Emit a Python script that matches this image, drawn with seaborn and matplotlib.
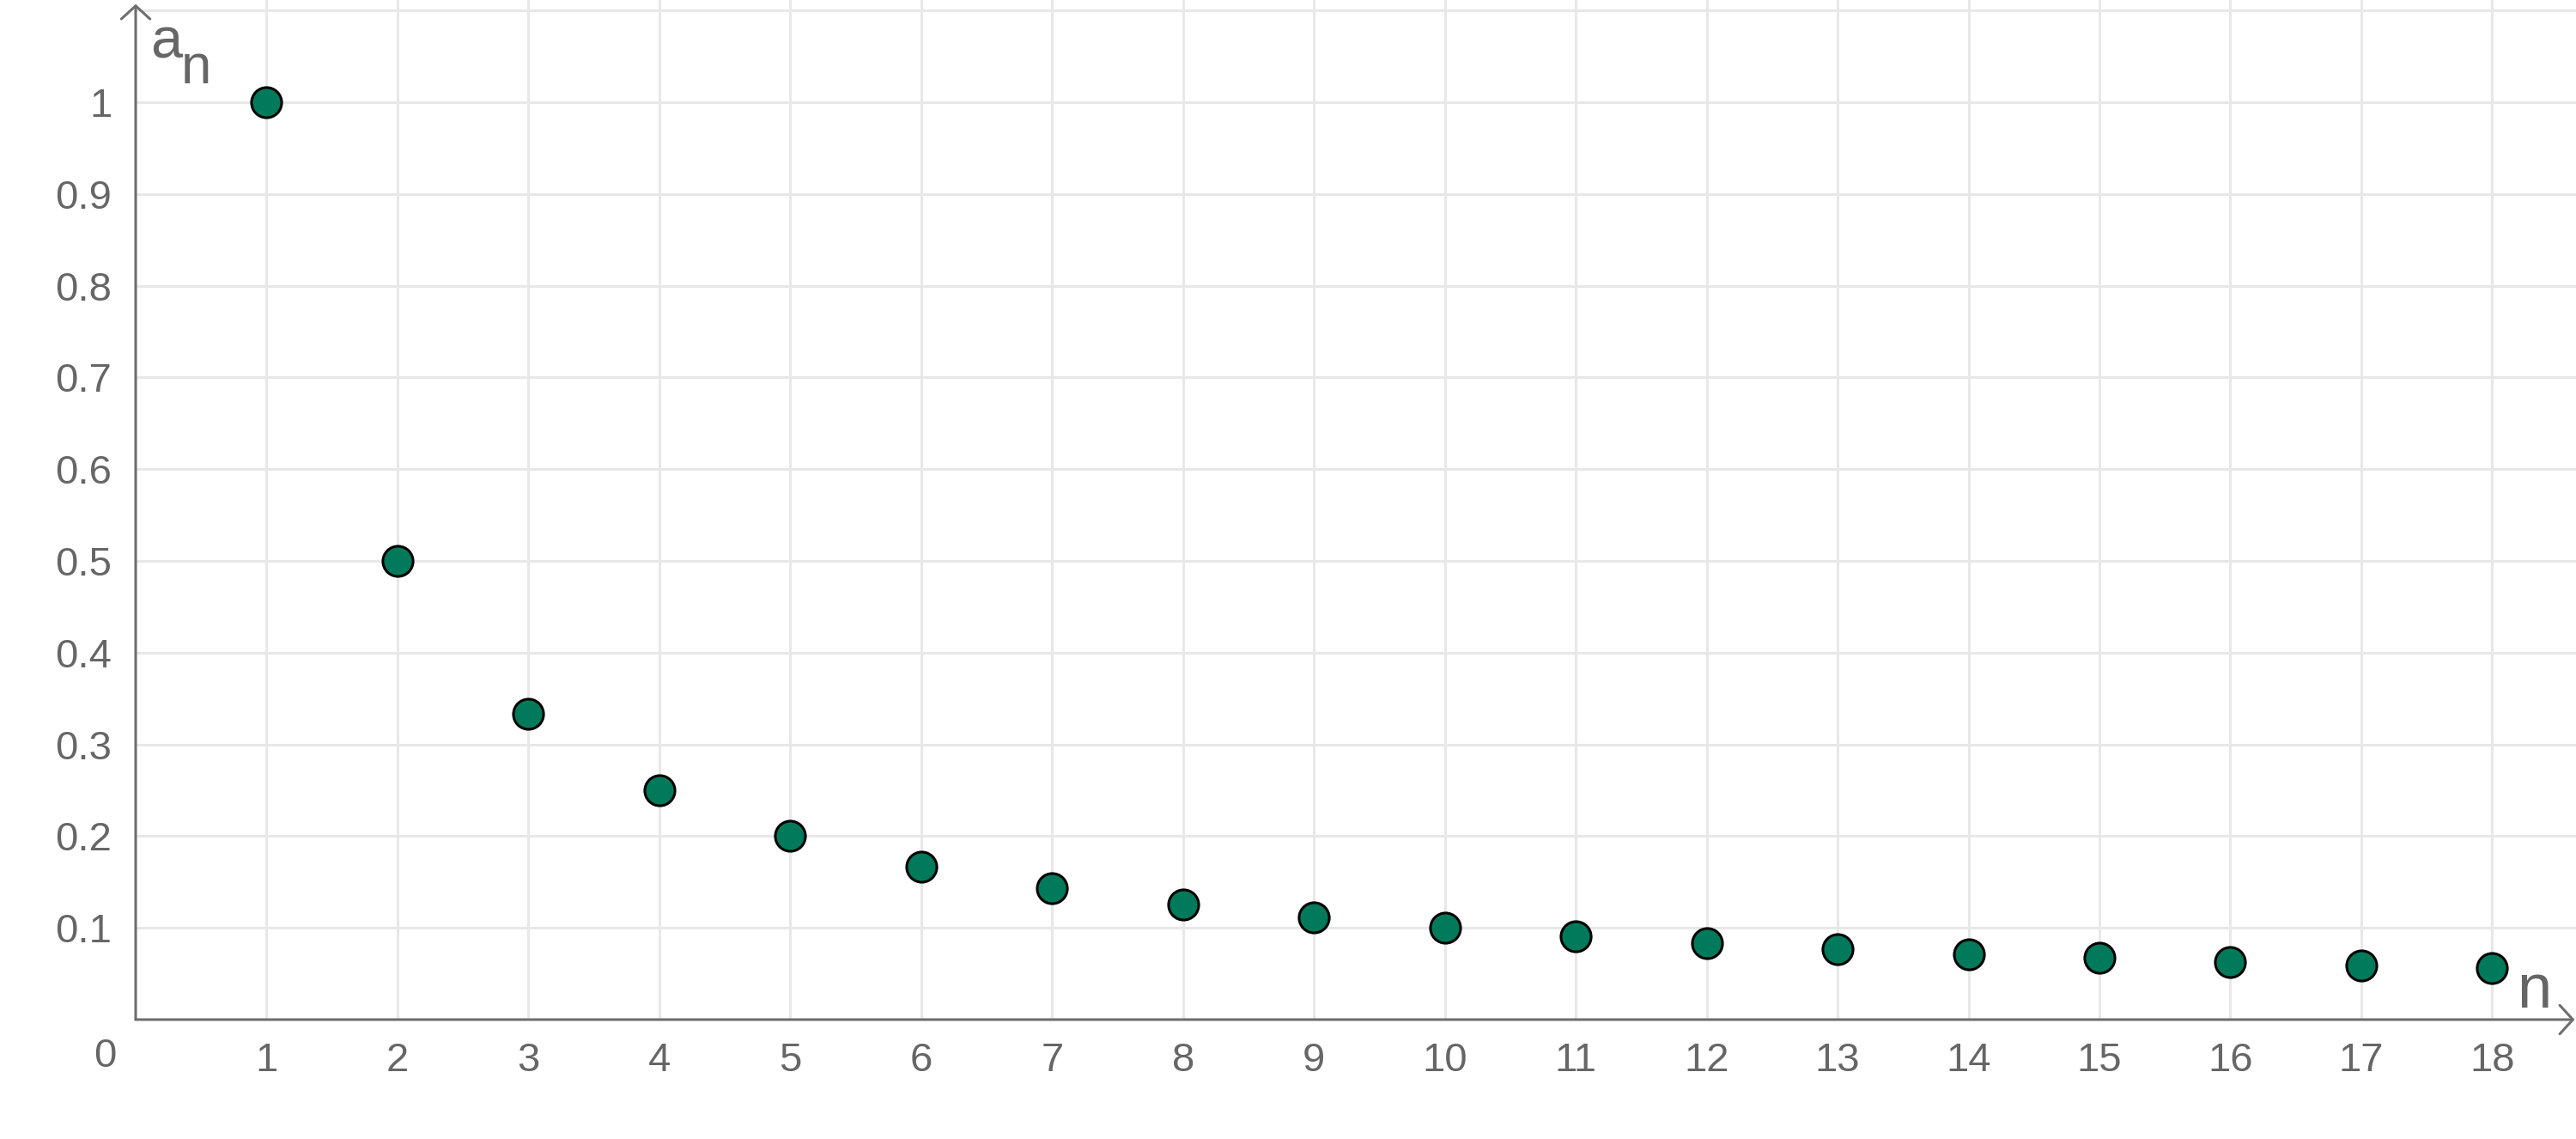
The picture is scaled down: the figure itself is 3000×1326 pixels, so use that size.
import matplotlib
matplotlib.use("Agg")
import matplotlib.pyplot as plt
import seaborn as sns
import pandas as pd

# sequence a_n
n_values = [1, 2, 3, 4, 5, 6, 7, 8, 9, 10, 11, 12, 13, 14, 15, 16, 17, 18]
a_values = [1.0, 0.5, 0.333, 0.25, 0.2, 0.167, 0.143, 0.125, 0.111, 0.1,
            0.091, 0.083, 0.077, 0.071, 0.067, 0.0625, 0.059, 0.056]
x_ticks = list(range(1, 19))
y_ticks = [0.1, 0.2, 0.3, 0.4, 0.5, 0.6, 0.7, 0.8, 0.9, 1.0]
y_tick_labels = ["0.1", "0.2", "0.3", "0.4", "0.5", "0.6", "0.7", "0.8", "0.9", "1"]
y_grid = y_ticks + [1.1]

sns.set_theme(style="white")
plt.rcParams["font.family"] = ["Liberation Sans", "DejaVu Sans"]

W, H = 3000, 1326
DPI = 200
axis_col = "#6e6e6e"
text_col = "#666666"
grid_col = "#e8e8e8"

fig = plt.figure(figsize=(W / DPI, H / DPI), dpi=DPI)
fig.patch.set_facecolor("white")

# axes cover the positive quadrant only
left, bottom = 158 / W, (H - 1187) / H
ax = fig.add_axes([left, bottom, 1 - left, 1 - bottom])
ax.set_xlim(0, 18.64)
ax.set_ylim(0, 1.1114)

df = pd.DataFrame({"n": n_values, "a": a_values})

for x in x_ticks:
    ax.axvline(x, color=grid_col, lw=1.1, zorder=0)
for y in y_grid:
    ax.axhline(y, color=grid_col, lw=1.1, zorder=0)

sns.scatterplot(data=df, x="n", y="a", ax=ax, s=160, color="#007a5a",
                edgecolor="black", linewidth=1.1, zorder=5, clip_on=False)

for sp in ax.spines.values():
    sp.set_visible(False)

# axes with open arrow heads
arrow = dict(arrowstyle="->,head_length=0.55,head_width=0.6", color=axis_col,
             lw=1.1, shrinkA=0, shrinkB=0, mutation_scale=10)
ax.annotate("", xy=(18.63, 0), xytext=(0, 0), arrowprops=arrow,
            annotation_clip=False, zorder=4)
ax.annotate("", xy=(0, 1.107), xytext=(0, 0), arrowprops=arrow,
            annotation_clip=False, zorder=4)

ax.set_xticks(x_ticks)
ax.set_xticklabels([str(v) for v in x_ticks])
ax.set_yticks(y_ticks)
ax.set_yticklabels(y_tick_labels)
ax.tick_params(axis="x", length=0, pad=9.5, labelsize=17, labelcolor=text_col)
ax.tick_params(axis="y", length=0, pad=10, labelsize=17, labelcolor=text_col)
ax.set_xlabel("")
ax.set_ylabel("")

# origin label and axis names
fig.text(122 / W, 1 - 1230 / H, "0", ha="center", va="center",
         fontsize=17, color=text_col)
fig.text(175 / W, 1 - 68 / H, "a", ha="left", va="baseline",
         fontsize=24, color=text_col)
fig.text(211 / W, 1 - 97 / H, "n", ha="left", va="baseline",
         fontsize=23, color=text_col)
fig.text(2931 / W, 1 - 1173 / H, "n", ha="left", va="baseline",
         fontsize=26, color=text_col)

fig.savefig("out.png", dpi=DPI)
